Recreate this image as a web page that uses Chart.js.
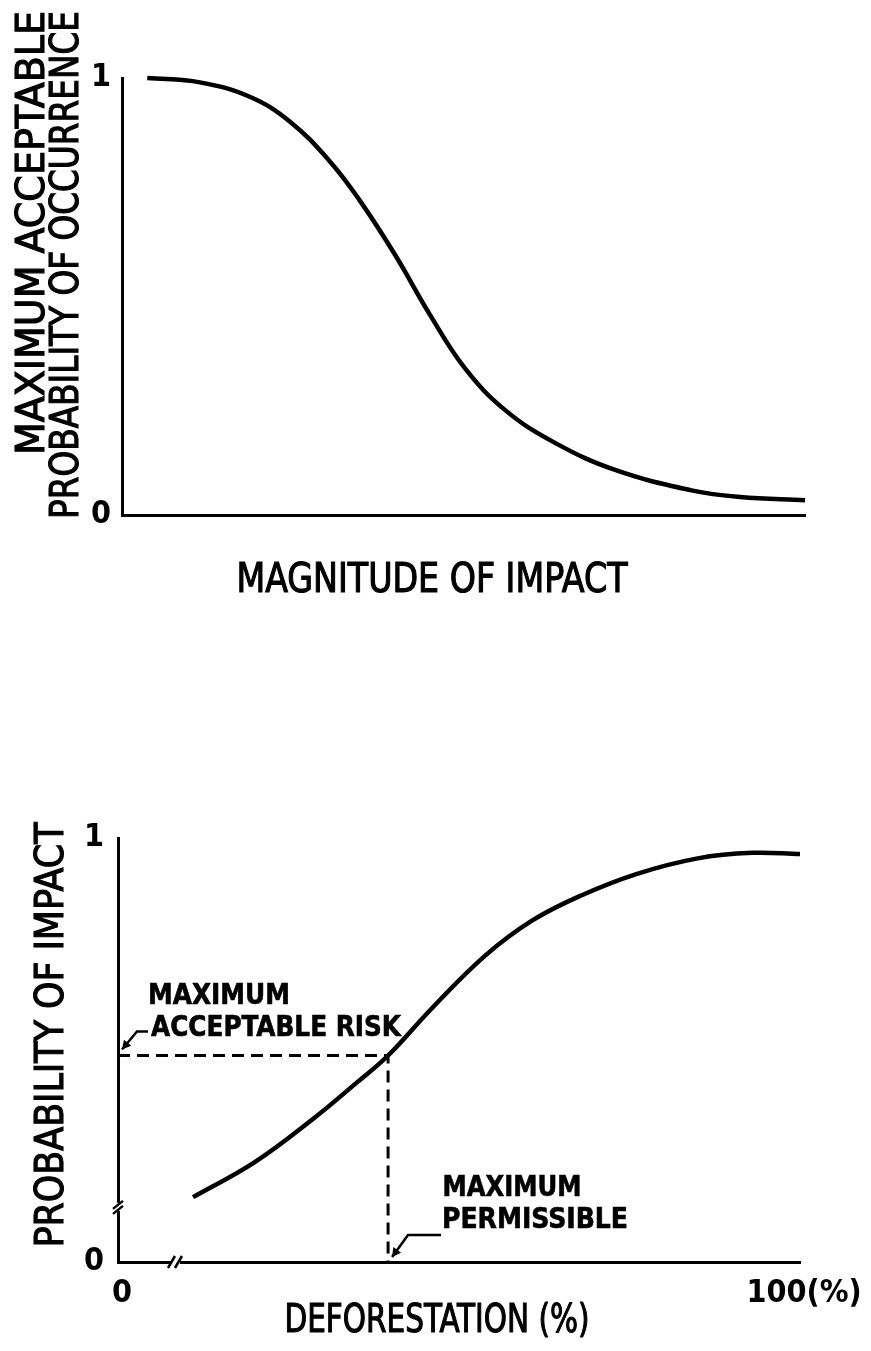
<!DOCTYPE html>
<html>
<head>
<meta charset="utf-8">
<script src="https://cdn.jsdelivr.net/npm/chart.js@4.4.1/dist/chart.umd.min.js"></script>
<style>
  html, body { margin: 0; padding: 0; background: #fff; }
  .box { position: absolute; left: 0; width: 871px; }
  #top { top: 0; height: 700px; }
  #bottom { top: 700px; height: 651px; }
</style>
</head>
<body>
<div class="box" id="top"><canvas id="impactChart"></canvas></div>
<div class="box" id="bottom"><canvas id="deforestChart"></canvas></div>
<script>
// top: magnitude of impact (no scale, 0-100) vs max acceptable probability
const magnitude = [3.7, 11.4, 18.7, 24.6, 30.5, 34.8, 40.0, 45.1, 50.2, 56.1, 63.4, 72.2, 83.2, 90.5, 100];
const acceptableProb = [1.0, 0.99, 0.957, 0.90, 0.808, 0.72, 0.595, 0.458, 0.336, 0.24, 0.165, 0.103, 0.057, 0.041, 0.034];

// bottom: deforestation (%) vs probability of impact
const deforestation = [11, 20, 28.4, 35, 39.6, 46, 53.8, 60.7, 68, 76, 85, 93, 100];
const impactProb = [0.153, 0.235, 0.335, 0.423, 0.487, 0.598, 0.722, 0.805, 0.865, 0.915, 0.952, 0.965, 0.962];
const maxRisk = 0.487;
const maxPermissible = 39.6;

const xTickLabels = ["0", "100(%)"];
const yBreakAt = 0.13;
const xBreakAt = 8.5;

const FONT = "'Liberation Sans Narrow', 'DejaVu Sans Condensed', 'Liberation Sans', sans-serif";

// draw text stretched/squeezed to a given width, centred on (cx, cy)
function drawFitted(ctx, text, cx, cy, width, size, weight, rotate) {
    ctx.save();
    ctx.font = weight + " " + size + "px " + FONT;
    const w = ctx.measureText(text).width;
    ctx.translate(cx, cy);
    if (rotate) ctx.rotate(-Math.PI / 2);
    ctx.scale(width / w, 1);
    ctx.textAlign = "center";
    ctx.textBaseline = "alphabetic";
    ctx.fillStyle = "#000";
    ctx.strokeStyle = "#000";
    ctx.lineWidth = weight === "bold" ? 0.6 : 1.1;
    ctx.fillText(text, 0, size * 0.36);
    ctx.strokeText(text, 0, size * 0.36);
    ctx.restore();
}

function arrowLeader(ctx, pts) {
    ctx.save();
    ctx.strokeStyle = "#000";
    ctx.fillStyle = "#000";
    ctx.lineWidth = 2.5;
    ctx.beginPath();
    ctx.moveTo(pts[0][0], pts[0][1]);
    for (let i = 1; i < pts.length; i++) ctx.lineTo(pts[i][0], pts[i][1]);
    ctx.stroke();
    const [x1, y1] = pts[pts.length - 2];
    const [x2, y2] = pts[pts.length - 1];
    const a = Math.atan2(y2 - y1, x2 - x1);
    ctx.beginPath();
    ctx.moveTo(x2, y2);
    ctx.lineTo(x2 - 10 * Math.cos(a - 0.5), y2 - 10 * Math.sin(a - 0.5));
    ctx.lineTo(x2 - 10 * Math.cos(a + 0.5), y2 - 10 * Math.sin(a + 0.5));
    ctx.closePath();
    ctx.fill();
    ctx.restore();
}

const topText = {
    id: "topText",
    afterDraw(chart) {
        const ctx = chart.ctx;
        drawFitted(ctx, "MAXIMUM ACCEPTABLE", 30, 233, 444, 39, "normal", true);
        drawFitted(ctx, "PROBABILITY OF OCCURRENCE", 64, 265, 508, 39, "normal", true);
        drawFitted(ctx, "MAGNITUDE OF IMPACT", 432, 578, 391, 40, "normal", false);
    }
};

const bottomText = {
    id: "bottomText",
    afterDraw(chart) {
        const ctx = chart.ctx;
        const xs = chart.scales.x, ys = chart.scales.y;
        drawFitted(ctx, "PROBABILITY OF IMPACT", 49, 335, 425, 39, "normal", true);
        drawFitted(ctx, "DEFORESTATION (%)", 437, 618, 305, 39, "normal", false);

        drawFitted(ctx, "MAXIMUM", 148 + 71, 294, 142, 28, "bold", false);
        drawFitted(ctx, "ACCEPTABLE RISK", 151 + 125, 326, 250, 28, "bold", false);
        const riskY = ys.getPixelForValue(maxRisk);
        const x0 = xs.getPixelForValue(0);
        arrowLeader(ctx, [[148, riskY - 24], [137, riskY - 24], [x0 + 4, riskY - 6]]);

        drawFitted(ctx, "MAXIMUM", 442 + 70, 486, 139, 28, "bold", false);
        drawFitted(ctx, "PERMISSIBLE", 442 + 93, 518, 186, 28, "bold", false);
        const permX = xs.getPixelForValue(maxPermissible);
        const y0 = ys.getPixelForValue(0);
        arrowLeader(ctx, [[441, y0 - 27], [408, y0 - 27], [permX + 4, y0 - 5]]);

        // axis breaks
        ctx.save();
        ctx.strokeStyle = "#000";
        ctx.lineWidth = 2.5;
        const by = ys.getPixelForValue(yBreakAt);
        ctx.fillStyle = "#fff";
        ctx.fillRect(x0 - 3, by - 4, 6, 8);
        ctx.beginPath();
        ctx.moveTo(x0 - 5, by + 2); ctx.lineTo(x0 + 5, by - 6);
        ctx.moveTo(x0 - 5, by + 7); ctx.lineTo(x0 + 5, by - 1);
        ctx.stroke();
        const bx = xs.getPixelForValue(xBreakAt);
        ctx.fillRect(bx - 4, y0 - 3, 8, 6);
        ctx.beginPath();
        ctx.moveTo(bx - 8, y0 + 6); ctx.lineTo(bx - 1, y0 - 6);
        ctx.moveTo(bx - 1, y0 + 6); ctx.lineTo(bx + 6, y0 - 6);
        ctx.stroke();
        ctx.restore();
    }
};

const axisBorder = { color: "#000", width: 3 };
const tickFont = { family: FONT, size: 32, weight: "bold" };

new Chart(document.getElementById("impactChart"), {
    type: "line",
    data: {
        datasets: [{
            data: magnitude.map((x, i) => ({ x: x, y: acceptableProb[i] })),
            borderColor: "#000",
            borderWidth: 4.5,
            pointRadius: 0,
            tension: 0.4,
            clip: false
        }]
    },
    options: {
        responsive: true,
        maintainAspectRatio: false,
        animation: false,
        layout: { padding: { left: 0, top: 78, right: 66, bottom: 0 } },
        plugins: { legend: { display: false }, tooltip: { enabled: false } },
        scales: {
            x: {
                type: "linear", min: 0, max: 100,
                grid: { display: false }, border: axisBorder,
                ticks: { display: false },
                afterFit: s => { s.height = 185; }
            },
            y: {
                min: 0, max: 1,
                grid: { display: false }, border: axisBorder,
                ticks: { stepSize: 1, color: "#000", padding: 3, font: tickFont },
                afterFit: s => { s.width = 122; }
            }
        }
    },
    plugins: [topText]
});

new Chart(document.getElementById("deforestChart"), {
    type: "line",
    data: {
        datasets: [{
            data: deforestation.map((x, i) => ({ x: x, y: impactProb[i] })),
            borderColor: "#000",
            borderWidth: 4.5,
            pointRadius: 0,
            tension: 0.4,
            clip: false
        }, {
            data: [{ x: 0, y: maxRisk }, { x: maxPermissible, y: maxRisk }, { x: maxPermissible, y: 0 }],
            borderColor: "#000",
            borderWidth: 3,
            borderDash: [12, 7],
            pointRadius: 0,
            tension: 0
        }]
    },
    options: {
        responsive: true,
        maintainAspectRatio: false,
        animation: false,
        layout: { padding: { left: 0, top: 138, right: 71, bottom: 0 } },
        plugins: { legend: { display: false }, tooltip: { enabled: false } },
        scales: {
            x: {
                type: "linear", min: 0, max: 100,
                grid: { display: false }, border: axisBorder,
                ticks: {
                    stepSize: 100, color: "#000", padding: 4, labelOffset: 4,
                    font: tickFont,
                    callback: v => (v === 0 ? xTickLabels[0] : xTickLabels[1])
                },
                afterFit: s => { s.height = 89; }
            },
            y: {
                min: 0, max: 1,
                grid: { display: false }, border: axisBorder,
                ticks: { stepSize: 1, color: "#000", padding: 6, font: tickFont },
                afterFit: s => { s.width = 118; }
            }
        }
    },
    plugins: [bottomText]
});
</script>
</body>
</html>
